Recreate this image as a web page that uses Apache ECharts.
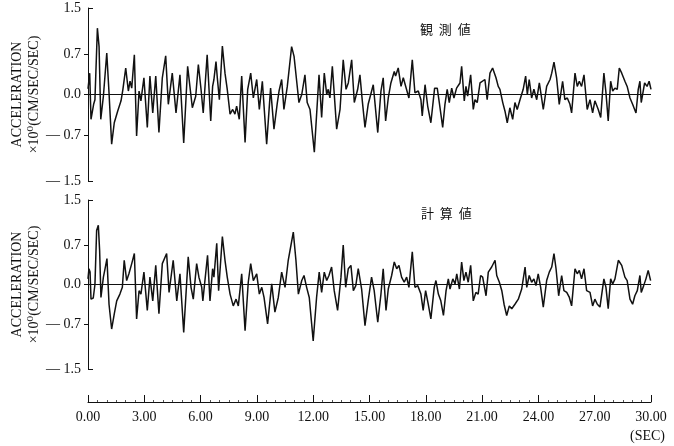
<!DOCTYPE html>
<html>
<head>
<meta charset="utf-8">
<style>
  html, body { margin: 0; padding: 0; background: #ffffff; }
  #chart { width: 674px; height: 446px; }
</style>
<script src="https://cdn.jsdelivr.net/npm/echarts@6.0.0/dist/echarts.min.js"></script>
</head>
<body>
<div id="chart"></div>
<script>
// Acceleration records, [time (s), acceleration (x10^0 cm/s^2)] at the turning points of each trace.
const OBSERVED = [
  [0.00,0.10],[0.09,0.37],[0.16,-0.43],[0.30,-0.17],[0.37,-0.09],[0.50,1.15],[0.59,0.83],[0.68,-0.43],[0.82,-0.03],[1.00,0.72],
  [1.12,0.03],[1.26,-0.86],[1.40,-0.49],[1.58,-0.29],[1.76,-0.11],[1.86,0.09],[2.01,0.46],[2.15,0.06],[2.24,0.23],[2.33,0.11],
  [2.47,0.69],[2.59,-0.72],[2.72,0.06],[2.82,-0.11],[2.98,0.29],[3.16,-0.57],[3.30,0.32],[3.45,-0.32],[3.61,0.32],[3.78,-0.66],
  [3.96,0.29],[4.14,0.67],[4.28,-0.17],[4.49,0.37],[4.69,-0.32],[4.90,0.34],[5.10,-0.84],[5.31,0.49],[5.43,0.14],[5.56,-0.23],
  [5.74,-0.03],[5.88,0.52],[6.02,0.10],[6.14,-0.32],[6.35,0.69],[6.54,-0.46],[6.64,0.14],[6.71,0.26],[6.82,0.57],[6.89,0.29],
  [7.00,-0.09],[7.16,0.84],[7.30,0.37],[7.42,0.09],[7.57,-0.34],[7.71,-0.26],[7.83,-0.34],[7.92,-0.20],[8.06,-0.43],[8.19,0.32],
  [8.37,-0.83],[8.51,0.09],[8.67,0.37],[8.81,-0.06],[8.99,0.26],[9.13,-0.26],[9.29,0.23],[9.52,-0.86],[9.73,0.11],[9.91,-0.60],
  [10.09,-0.14],[10.18,0.06],[10.32,0.26],[10.44,-0.26],[10.62,0.14],[10.85,0.83],[10.98,0.66],[11.12,0.23],[11.24,-0.14],[11.39,0.00],
  [11.56,0.34],[11.68,-0.14],[11.83,-0.26],[12.06,-1.00],[12.22,-0.14],[12.31,0.34],[12.45,-0.40],[12.59,0.37],[12.72,0.00],[12.80,0.09],
  [12.89,-0.06],[13.02,0.49],[13.25,-0.60],[13.43,-0.26],[13.60,0.60],[13.75,0.09],[13.87,0.20],[14.05,0.60],[14.19,-0.14],[14.37,0.09],
  [14.49,0.34],[14.61,-0.09],[14.76,-0.57],[14.93,-0.17],[15.20,0.17],[15.44,-0.66],[15.61,0.06],[15.73,0.29],[15.86,-0.46],[16.00,-0.06],
  [16.14,0.20],[16.32,0.40],[16.39,0.32],[16.53,0.46],[16.68,0.14],[16.80,0.29],[16.93,0.14],[17.10,-0.06],[17.28,0.60],[17.42,0.03],
  [17.60,0.06],[17.74,-0.09],[17.81,-0.37],[17.96,0.17],[18.10,-0.20],[18.27,-0.49],[18.47,0.11],[18.61,0.11],[18.72,-0.14],[18.90,-0.57],
  [19.02,-0.17],[19.14,0.09],[19.25,-0.14],[19.38,0.11],[19.50,-0.06],[19.64,0.11],[19.82,0.20],[19.91,0.49],[20.05,-0.11],[20.14,0.14],
  [20.23,-0.03],[20.39,0.34],[20.53,-0.26],[20.62,-0.09],[20.74,-0.14],[20.89,0.20],[20.98,0.23],[21.15,0.26],[21.27,-0.09],[21.42,0.37],
  [21.56,0.46],[21.63,0.49],[21.74,0.29],[21.86,0.14],[21.95,0.09],[22.10,-0.14],[22.22,-0.29],[22.34,-0.49],[22.48,-0.23],[22.63,-0.43],
  [22.75,-0.14],[22.87,-0.26],[23.02,-0.09],[23.19,0.09],[23.32,0.32],[23.41,0.00],[23.51,0.26],[23.64,-0.06],[23.76,0.09],[23.91,-0.09],
  [24.05,0.20],[24.17,-0.06],[24.26,-0.26],[24.44,0.14],[24.62,0.26],[24.71,0.37],[24.83,0.56],[24.97,0.29],[25.11,-0.17],[25.29,0.23],
  [25.41,-0.09],[25.54,-0.06],[25.68,-0.17],[25.77,-0.32],[25.95,0.37],[26.07,0.14],[26.18,0.23],[26.30,0.14],[26.43,0.34],[26.60,-0.26],
  [26.75,-0.09],[26.89,-0.32],[27.01,-0.11],[27.19,-0.26],[27.32,-0.40],[27.49,0.37],[27.60,0.03],[27.72,-0.46],[27.85,0.23],[27.96,0.06],
  [28.08,0.11],[28.20,0.09],[28.31,0.46],[28.44,0.37],[28.61,0.23],[28.73,0.14],[28.88,-0.06],[29.02,-0.17],[29.20,-0.32],[29.32,0.09],
  [29.41,0.23],[29.48,-0.14],[29.66,0.20],[29.79,0.14],[29.90,0.23],[30.00,0.09]
];

const COMPUTED = [
  [0.00,0.10],[0.05,0.28],[0.11,0.22],[0.16,-0.26],[0.28,-0.24],[0.37,0.00],[0.46,0.96],[0.55,1.05],[0.62,0.60],[0.69,-0.23],
  [0.82,0.13],[0.91,0.28],[1.01,0.46],[1.12,-0.35],[1.26,-0.79],[1.40,-0.52],[1.53,-0.29],[1.70,-0.17],[1.83,-0.05],[1.93,0.43],
  [2.06,0.07],[2.18,0.19],[2.33,0.37],[2.47,0.55],[2.59,-0.61],[2.72,-0.11],[2.82,-0.17],[2.98,0.22],[3.16,-0.46],[3.30,0.13],
  [3.45,-0.29],[3.61,0.34],[3.78,-0.52],[3.96,0.37],[4.19,0.55],[4.32,-0.14],[4.54,0.43],[4.73,-0.29],[4.90,0.19],[5.10,-0.85],
  [5.34,0.49],[5.49,-0.05],[5.61,-0.26],[5.79,0.37],[5.91,0.13],[6.06,-0.05],[6.12,-0.29],[6.37,0.52],[6.50,-0.29],[6.64,0.28],
  [6.71,0.13],[6.86,0.73],[6.96,-0.11],[7.16,0.85],[7.30,0.43],[7.42,0.13],[7.57,-0.17],[7.74,-0.38],[7.89,-0.26],[8.01,-0.38],
  [8.19,0.19],[8.37,-0.82],[8.54,0.04],[8.67,0.37],[8.81,0.07],[8.99,0.19],[9.13,-0.17],[9.26,-0.05],[9.38,-0.23],[9.57,-0.70],
  [9.79,0.01],[9.96,-0.49],[10.14,-0.23],[10.32,0.22],[10.50,-0.05],[10.67,0.43],[10.80,0.67],[10.94,0.93],[11.08,0.43],[11.21,-0.17],
  [11.39,0.07],[11.51,0.16],[11.65,-0.05],[11.79,-0.23],[12.00,-1.00],[12.18,-0.23],[12.32,0.22],[12.45,-0.14],[12.59,0.22],[12.72,0.07],
  [12.84,0.16],[12.98,0.31],[13.12,-0.11],[13.30,-0.46],[13.48,0.13],[13.60,0.70],[13.73,-0.05],[13.87,0.28],[14.01,0.34],[14.14,-0.11],
  [14.27,-0.02],[14.40,0.28],[14.58,-0.08],[14.76,-0.73],[14.93,-0.29],[15.11,0.13],[15.25,-0.11],[15.44,-0.67],[15.61,-0.17],[15.73,0.28],
  [15.88,-0.46],[16.00,-0.08],[16.18,0.16],[16.32,0.40],[16.45,0.28],[16.57,0.34],[16.71,0.13],[16.85,0.04],[16.98,0.13],[17.10,-0.05],
  [17.28,0.58],[17.42,-0.05],[17.57,-0.02],[17.74,-0.17],[17.86,-0.46],[17.99,-0.11],[18.13,-0.35],[18.27,-0.61],[18.45,-0.05],[18.54,0.07],
  [18.67,-0.17],[18.80,-0.29],[18.94,-0.55],[19.08,-0.11],[19.20,0.10],[19.29,-0.08],[19.44,0.10],[19.56,0.01],[19.65,0.19],[19.79,-0.08],
  [19.91,0.40],[20.03,0.07],[20.14,0.22],[20.26,0.04],[20.39,0.34],[20.53,-0.29],[20.67,-0.14],[20.79,-0.17],[20.92,0.16],[21.03,0.13],
  [21.21,-0.20],[21.33,0.22],[21.51,0.31],[21.69,0.43],[21.78,0.16],[21.92,0.04],[22.05,-0.11],[22.17,-0.35],[22.31,-0.55],[22.45,-0.38],
  [22.58,-0.43],[22.75,-0.35],[22.93,-0.26],[23.11,-0.08],[23.29,0.31],[23.38,-0.05],[23.51,0.16],[23.64,0.04],[23.76,0.10],[23.87,-0.02],
  [23.99,0.19],[24.12,-0.05],[24.26,-0.40],[24.44,0.07],[24.58,0.22],[24.71,0.31],[24.83,0.55],[24.94,0.28],[25.08,-0.20],[25.24,0.16],
  [25.36,-0.11],[25.51,-0.14],[25.65,-0.23],[25.77,-0.38],[25.95,0.28],[26.07,0.19],[26.18,0.25],[26.30,0.10],[26.43,0.28],[26.57,-0.11],
  [26.75,-0.14],[26.89,-0.38],[27.01,-0.26],[27.14,-0.35],[27.28,-0.40],[27.49,0.10],[27.60,-0.05],[27.72,-0.43],[27.85,0.10],[27.96,0.01],
  [28.08,0.10],[28.26,0.43],[28.44,0.34],[28.61,0.13],[28.73,0.07],[28.88,-0.26],[29.02,-0.35],[29.14,-0.20],[29.27,-0.11],[29.41,0.16],
  [29.48,-0.14],[29.61,-0.02],[29.73,0.10],[29.85,0.25],[29.98,0.07]
];

// Axis ticks and labels
const Y_LABELS = [-1.5, -0.7, 0, 0.7, 1.5];
const Y_CORNER_TICKS = [-1.5, 1.5];
const Y_MID_TICKS = [-0.7, 0, 0.7];
const TIME_STEP = 3;
const TIME_MAX = 30;
const PANEL_TITLES = ['観  測  値', '計  算  値'];
const Y_NAME = 'ACCELERATION\n×10⁰(CM/SEC/SEC)';
const TIME_UNIT = '(SEC)';

const SERIF = '"Liberation Serif", "DejaVu Serif", serif';
const CJK = '"Noto Sans CJK JP", "Noto Sans CJK SC", sans-serif';
const INK = '#111111';

function fmtY(v) {
  if (Math.abs(v) < 1e-9) return '0.0';
  return v < 0 ? '\u2014 ' + Math.abs(v).toFixed(1) : v.toFixed(1);
}

function yAxesFor(gridIndex) {
  return [
    {
      gridIndex, type: 'value', min: -1.5, max: 1.5, position: 'left',
      axisLine: { show: true, onZero: false, lineStyle: { color: INK, width: 1 } },
      axisTick: { show: true, inside: true, length: 5, customValues: Y_CORNER_TICKS, lineStyle: { color: INK, width: 1 } },
      axisLabel: { show: true, customValues: Y_LABELS, formatter: fmtY, color: INK, fontFamily: SERIF, fontSize: 14, margin: 7 },
      splitLine: { show: false },
      name: Y_NAME, nameLocation: 'middle', nameGap: 45, nameRotate: 90, nameMoveOverlap: false,
      nameTextStyle: { color: INK, fontFamily: SERIF, fontSize: 14, lineHeight: 17, align: 'center' }
    },
    {
      gridIndex, type: 'value', min: -1.5, max: 1.5, position: 'left',
      axisLine: { show: false },
      axisTick: { show: true, inside: false, length: 4, customValues: Y_MID_TICKS, lineStyle: { color: INK, width: 1 } },
      axisLabel: { show: false },
      splitLine: { show: false }
    }
  ];
}

function traceSeries(data, xIdx, yIdx) {
  return {
    type: 'line', xAxisIndex: xIdx, yAxisIndex: yIdx, data,
    showSymbol: false, symbol: 'none', silent: true, animation: false,
    lineStyle: { color: INK, width: 1.5 },
    markLine: {
      silent: true, symbol: 'none', animation: false,
      label: { show: false },
      lineStyle: { color: INK, width: 1, type: 'solid' },
      emphasis: { disabled: true },
      data: [{ yAxis: 0 }]
    }
  };
}

const chart = echarts.init(document.getElementById('chart'), null, { renderer: 'canvas' });

chart.setOption({
  backgroundColor: '#ffffff',
  animation: false,
  textStyle: { fontFamily: SERIF, color: INK },
  grid: [
    { left: 88, right: 23, top: 8, height: 173, containLabel: false, outerBoundsMode: 'none' },
    { left: 88, right: 23, top: 200, height: 169, containLabel: false, outerBoundsMode: 'none' }
  ],
  xAxis: [
    { gridIndex: 0, type: 'value', min: 0, max: TIME_MAX, show: false },
    {
      gridIndex: 1, type: 'value', min: 0, max: TIME_MAX, interval: TIME_STEP,
      position: 'bottom', offset: 33,
      axisLine: { show: true, onZero: false, lineStyle: { color: INK, width: 1 } },
      axisTick: { show: true, inside: true, length: 7, lineStyle: { color: INK, width: 1 } },
      minorTick: { show: true, splitNumber: 6, length: 2, lineStyle: { color: '#555', width: 1 } },
      axisLabel: {
        formatter: v => v.toFixed(2), color: INK, fontFamily: SERIF, fontSize: 14, margin: 8,
        showMinLabel: true, showMaxLabel: true
      },
      splitLine: { show: false }
    }
  ],
  yAxis: [...yAxesFor(0), ...yAxesFor(1)],
  series: [
    traceSeries(OBSERVED, 0, 0),
    traceSeries(COMPUTED, 1, 2)
  ],
  graphic: [
    { type: 'text', left: 420, top: 23, silent: true,
      style: { text: PANEL_TITLES[0], font: '13px ' + CJK, fill: INK } },
    { type: 'text', left: 421, top: 207, silent: true,
      style: { text: PANEL_TITLES[1], font: '13px ' + CJK, fill: INK } },
    { type: 'text', left: 630, top: 429, silent: true,
      style: { text: TIME_UNIT, font: '14px ' + SERIF, fill: INK } }
  ]
});
</script>
</body>
</html>
